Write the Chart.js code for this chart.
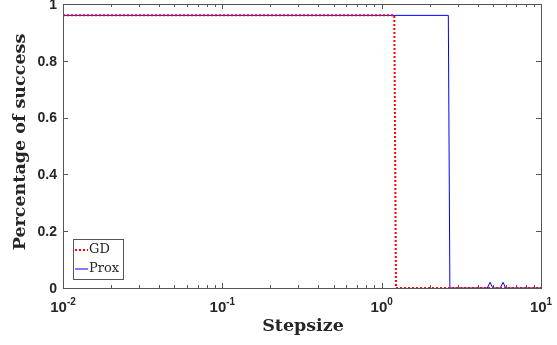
<!DOCTYPE html>
<html>
<head>
<meta charset="utf-8">
<script src="https://cdn.jsdelivr.net/npm/chart.js@4/dist/chart.umd.min.js"></script>
<style>
  html, body { margin: 0; padding: 0; background: #fff; }
  #wrap { width: 557px; height: 345px; position: relative; }
</style>
</head>
<body>
<div id="wrap"><canvas id="chart"></canvas></div>
<script>
// success rate vs step size (log x)
const gdX = [0.01, 1.2, 1.23, 10];
const gdY = [0.96, 0.96, 0, 0];
const proxX = [0.01, 2.62, 2.68, 4.6, 4.79, 4.98, 5.55, 5.78, 6.0, 10];
const proxY = [0.96, 0.96, 0, 0, 0.02, 0, 0, 0.02, 0, 0];
const xMajorTicks = [0.01, 0.1, 1, 10];
const xTickExp = ["-2", "-1", "0", "1"];
const yTicks = [0, 0.2, 0.4, 0.6, 0.8, 1];
const yTickLabels = ["0", "0.2", "0.4", "0.6", "0.8", "1"];

const AXIS = "#555555";
const TEXT = "#262626";
const SANS = "'Liberation Sans', Arial, sans-serif";
const SERIF = "'DejaVu Serif', 'Liberation Serif', serif";

const toPts = (xs, ys) => xs.map((x, i) => ({ x, y: ys[i] }));

const axesPlugin = {
  id: "matlabAxes",
  afterDraw(chart) {
    const { ctx, chartArea: a, scales: { x, y } } = chart;
    ctx.save();
    ctx.strokeStyle = AXIS;
    ctx.lineWidth = 1;
    ctx.strokeRect(Math.round(a.left) + 0.5, Math.round(a.top) + 0.5,
      Math.round(a.right - a.left), Math.round(a.bottom - a.top));

    // x ticks, inward, bottom and top
    ctx.beginPath();
    for (let d = 0; d < xMajorTicks.length; d++) {
      const base = xMajorTicks[d];
      const px = Math.round(x.getPixelForValue(base)) + 0.5;
      ctx.moveTo(px, a.bottom); ctx.lineTo(px, a.bottom - 5);
      ctx.moveTo(px, a.top); ctx.lineTo(px, a.top + 5);
      if (d < xMajorTicks.length - 1) {
        for (let m = 2; m <= 9; m++) {
          const mx = Math.round(x.getPixelForValue(base * m)) + 0.5;
          ctx.moveTo(mx, a.bottom); ctx.lineTo(mx, a.bottom - 3);
          ctx.moveTo(mx, a.top); ctx.lineTo(mx, a.top + 3);
        }
      }
    }
    // y ticks, inward, left and right
    yTicks.forEach(v => {
      const py = Math.round(y.getPixelForValue(v)) + 0.5;
      ctx.moveTo(a.left, py); ctx.lineTo(a.left + 5, py);
      ctx.moveTo(a.right, py); ctx.lineTo(a.right - 5, py);
    });
    ctx.stroke();

    // y tick labels
    ctx.fillStyle = TEXT;
    ctx.font = "bold 14px " + SANS;
    ctx.textAlign = "right";
    ctx.textBaseline = "middle";
    yTicks.forEach((v, i) => ctx.fillText(yTickLabels[i], a.left - 6, y.getPixelForValue(v) + 1));

    // x tick labels 10^n
    ctx.textBaseline = "alphabetic";
    ctx.textAlign = "left";
    xMajorTicks.forEach((v, i) => {
      ctx.font = "bold 15px " + SANS;
      const wb = ctx.measureText("10").width;
      ctx.font = "bold 10px " + SANS;
      const we = ctx.measureText(xTickExp[i]).width;
      const px = x.getPixelForValue(v);
      const x0 = px - (wb + we) / 2;
      ctx.font = "bold 15px " + SANS;
      ctx.fillText("10", x0, a.bottom + 23.5);
      ctx.font = "bold 10px " + SANS;
      ctx.fillText(xTickExp[i], x0 + wb, a.bottom + 17);
    });

    // axis titles
    ctx.font = "bold 17.5px " + SERIF;
    ctx.textAlign = "center";
    ctx.textBaseline = "middle";
    ctx.fillText("Stepsize", 303, a.bottom + 38);
    ctx.save();
    ctx.translate(20, 142);
    ctx.rotate(-Math.PI / 2);
    ctx.fillText("Percentage of success", 0, 0);
    ctx.restore();

    // legend box, lower left inside axes
    const lx = a.left + 10, ly = a.bottom - 49, lw = 50, lh = 40;
    ctx.fillStyle = "#fff";
    ctx.fillRect(lx, ly, lw, lh);
    ctx.strokeStyle = AXIS;
    ctx.strokeRect(lx + 0.5, ly + 0.5, lw, lh);
    chart.data.datasets.forEach((ds, i) => {
      const cy = ly + 11 + i * 19;
      ctx.strokeStyle = ds.borderColor;
      ctx.lineWidth = ds.borderWidth;
      ctx.setLineDash(ds.borderDash || []);
      ctx.beginPath();
      ctx.moveTo(lx + 2, cy); ctx.lineTo(lx + 15, cy);
      ctx.stroke();
      ctx.setLineDash([]);
      ctx.fillStyle = TEXT;
      ctx.font = "13px " + SERIF;
      ctx.textAlign = "left";
      ctx.fillText(ds.label, lx + 16, cy);
    });
    ctx.restore();
  }
};

new Chart(document.getElementById("chart"), {
  type: "line",
  data: {
    datasets: [
      { label: "GD", data: toPts(gdX, gdY), borderColor: "#ff0000", borderWidth: 2,
        borderDash: [2, 2], pointRadius: 0, tension: 0, fill: false },
      { label: "Prox", data: toPts(proxX, proxY), borderColor: "#0000ff", borderWidth: 1,
        pointRadius: 0, tension: 0, fill: false },
    ],
  },
  options: {
    responsive: true,
    maintainAspectRatio: false,
    animation: false,
    layout: { padding: { top: 4, right: 16, left: 0, bottom: 0 } },
    plugins: { legend: { display: false }, tooltip: { enabled: false } },
    scales: {
      x: {
        type: "logarithmic", min: 0.01, max: 10,
        grid: { display: false }, border: { display: false },
        ticks: { display: false },
        afterFit: s => { s.height = 57; },
      },
      y: {
        min: 0, max: 1,
        grid: { display: false }, border: { display: false },
        ticks: { display: false },
        afterFit: s => { s.width = 63; },
      },
    },
  },
  plugins: [axesPlugin],
});
</script>
</body>
</html>
